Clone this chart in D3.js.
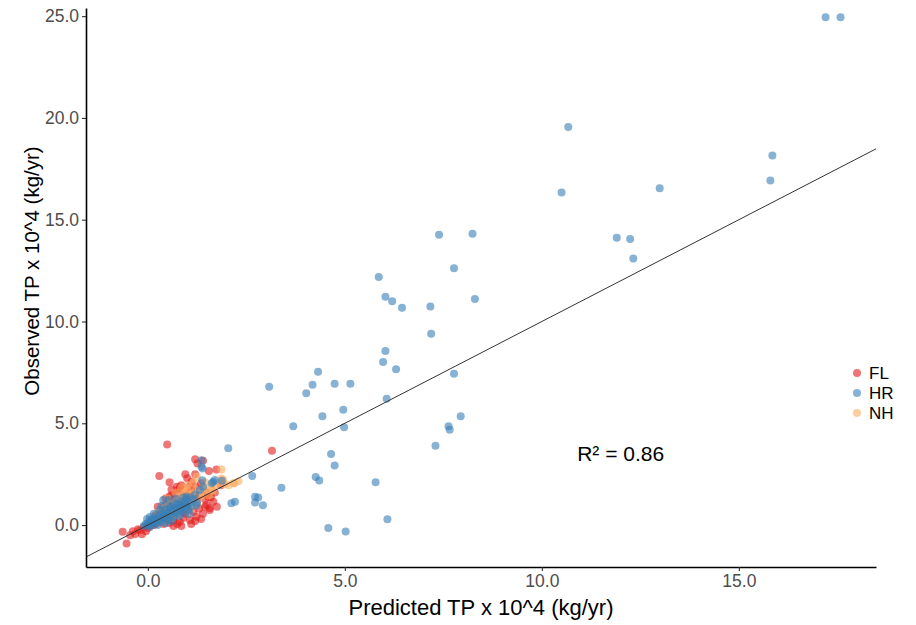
<!DOCTYPE html>
<html>
<head>
<meta charset="utf-8">
<script src="https://cdn.jsdelivr.net/npm/d3@7"></script>
<style>
  html, body { margin: 0; padding: 0; background: #ffffff; }
  svg { display: block; font-family: "Liberation Sans", Arial, sans-serif; }
</style>
</head>
<body>
<svg id="chart" width="916" height="625"></svg>
<script>
// Predicted vs observed total phosphorus loads, by region

const groups = ["FL", "HR", "NH"];
const groupColors = ["#E41A1C", "#377EB8", "#FDAE61"];

// FL sites: [predicted, observed]
const flPoints = [
  [-0.64,-0.33],[-0.54,-0.90],[-0.45,-0.50],[-0.38,-0.30],[-0.32,-0.44],[-0.25,-0.20],
  [-0.20,-0.25],[-0.15,-0.45],[-0.10,-0.10],[-0.05,-0.30],[0.00,-0.15],[0.05,-0.05],
  [0.49,3.96],[0.29,2.41],[3.15,3.65],[1.20,3.23],[1.40,3.16],[1.26,3.03],[1.74,2.73],
  [0.73,1.88],[0.81,1.85],[0.85,1.96],[1.11,2.13],[0.60,1.75],[1.00,2.30],
  [0.20,0.05],[0.30,0.15],[0.40,0.05],[0.50,0.30],[0.55,0.10],[0.65,0.20],[0.70,0.45],
  [0.75,0.05],[0.81,0.16],[0.90,0.35],[0.95,0.55],[1.07,0.25],[1.15,0.65],[1.23,0.41],
  [1.30,0.80],[1.40,0.55],[1.49,0.98],[1.57,0.82],[1.66,1.14],[1.75,0.90],[0.85,0.70],
  [0.60,0.60],[0.45,0.50],[1.00,0.90],[1.53,1.39],[1.45,0.90],[1.57,0.74],
  [0.30,0.60],[0.40,0.90],[0.50,1.10],[0.55,1.40],[0.65,1.20],[0.70,1.55],[0.80,1.30],
  [0.90,1.60],[1.00,1.45],[1.10,1.70],[1.20,1.90],[1.35,2.05],[0.20,0.50],[0.10,0.25],
  [0.15,0.00],[0.35,0.35],[0.95,1.15],[1.25,1.30],[1.50,1.60],[1.85,1.95],
  [0.25,0.90],[0.45,1.30],[0.60,1.45],[0.75,1.70],[1.05,1.90],[1.30,1.45],[1.45,1.25],
  [1.60,1.35],[1.70,1.60],[1.20,0.20],[1.35,0.30],[0.85,-0.05],[0.65,-0.05],[1.10,0.05],
  [1.55,2.65],[1.20,2.50],[0.95,2.50],[0.55,2.10]
];

// NH sites
const nhPoints = [
  [0.10,0.30],[0.20,0.40],[0.25,0.60],[0.30,0.45],[0.35,0.80],[0.40,0.55],[0.45,0.95],
  [0.50,0.70],[0.56,0.41],[0.60,1.00],[0.65,0.80],[0.70,1.20],[0.75,0.95],[0.80,1.40],
  [0.85,1.10],[0.90,1.56],[0.95,1.30],[1.00,1.70],[1.02,1.96],[1.10,1.50],[1.15,2.10],
  [1.20,1.75],[1.24,2.37],[1.30,1.55],[1.40,1.80],[1.50,1.70],[1.60,1.90],[1.70,1.95],
  [1.80,2.05],[1.87,2.29],[1.91,2.21],[2.17,2.05],[2.19,2.05],[1.87,2.73],[1.45,2.10],
  [0.98,0.85],[0.30,0.10],[0.60,0.35],[1.25,1.05],
  [0.50,1.30],[0.70,1.60],[0.85,1.85],[1.15,1.30],[1.35,1.40],[1.55,1.45],[1.65,1.70],
  [1.95,2.00],[2.05,1.95],[2.30,2.15],[0.40,0.20],[0.75,0.50],[1.10,0.80]
];

// HR sites
const hrPoints = [
  [17.20,24.95],[17.58,24.95],[10.67,19.55],[10.50,16.34],[12.99,16.55],[15.85,18.16],
  [15.80,16.93],[11.90,14.11],[12.24,14.05],[12.32,13.10],
  [7.39,14.26],[8.24,14.31],[7.77,12.61],[8.30,11.10],[5.86,12.18],[6.03,11.21],
  [6.20,11.00],[6.45,10.67],[7.17,10.74],[7.19,9.40],[6.03,8.55],[5.97,8.01],[6.30,7.65],
  [7.77,7.43],[4.32,7.53],[4.18,6.89],[4.74,6.94],[5.14,6.94],[4.02,6.47],[3.69,4.86],
  [4.43,5.35],[4.96,5.66],[4.98,4.80],[6.06,6.20],[7.94,5.35],[7.63,4.86],[7.66,4.68],
  [7.30,3.90],[4.65,3.49],[4.74,2.93],[4.26,2.36],[4.35,2.19],[5.78,2.10],[3.39,1.83],
  [6.08,0.28],[4.58,-0.15],[5.02,-0.31],
  [3.08,6.79],[2.65,2.41],[2.72,1.39],[2.80,1.36],[2.72,1.11],[2.92,0.97],[2.04,3.77],
  [2.12,1.07],[2.21,1.14],[1.36,2.86],[1.39,2.78],[1.62,2.05],[1.70,2.21],[1.88,2.18],
  [1.38,2.20],
  [-0.10,-0.05],[-0.05,0.05],[0.00,0.00],[0.02,0.15],[0.05,-0.10],[0.08,0.10],[0.10,0.25],
  [0.12,0.00],[0.15,0.15],[0.18,0.35],[0.20,0.10],[0.22,0.25],[0.25,0.45],[0.28,0.20],
  [0.30,0.35],[0.33,0.55],[0.35,0.15],[0.38,0.40],[0.40,0.60],[0.42,0.30],[0.45,0.75],
  [0.48,0.45],[0.50,0.60],[0.52,0.25],[0.55,0.85],[0.58,0.50],[0.60,0.70],[0.63,0.95],
  [0.65,0.40],[0.68,0.65],[0.70,0.85],[0.72,1.05],[0.75,0.55],[0.78,0.80],[0.80,1.00],
  [0.83,0.70],[0.85,1.15],[0.88,0.90],[0.90,0.60],[0.93,1.05],[0.95,0.80],[0.98,1.25],
  [1.00,0.95],[1.03,0.75],[1.05,1.10],[1.08,1.35],[1.10,0.90],[0.52,1.23],[0.39,1.23],
  [0.98,1.39],[1.32,1.72],[1.40,1.88],[1.66,2.13],[1.23,0.97],[1.36,3.19],[0.13,0.25],
  [0.56,0.90],[0.81,0.98],
  [0.15,0.55],[0.30,0.75],[0.45,0.10],[0.60,0.20],[0.70,1.30],[0.80,0.45],[0.90,1.35],
  [1.05,0.55],[1.15,1.25],[1.20,1.50],[0.35,0.95],[0.25,0.00],[-0.02,0.30],[0.05,0.40],
  [1.25,1.10]
];

const xTicks = [0, 5, 10, 15];
const yTicks = [0, 5, 10, 15, 20, 25];
const xDomain = [-1.57, 18.48];
const yDomain = [-2.06, 25.40];

// fitted line y = a + b x
const fitIntercept = 0;
const fitSlope = 1;
const r2Label = "R\u00B2 = 0.86";
const r2Position = [12, 3.5];

const xTitle = "Predicted TP x 10^4 (kg/yr)";
const yTitle = "Observed TP x 10^4 (kg/yr)";

const svg = d3.select("#chart");
const panel = { left: 86, right: 876, top: 8, bottom: 567 };

const x = d3.scaleLinear().domain(xDomain).range([panel.left, panel.right]);
const y = d3.scaleLinear().domain(yDomain).range([panel.bottom, panel.top]);
const color = d3.scaleOrdinal().domain(groups).range(groupColors);

const series = [
  { key: "FL", values: flPoints },
  { key: "NH", values: nhPoints },
  { key: "HR", values: hrPoints }
];

const pointRadius = 4;
const pointOpacity = 0.6;

const plot = svg.append("g");
series.forEach(s => {
  plot.append("g")
    .selectAll("circle")
    .data(s.values)
    .join("circle")
    .attr("cx", d => x(d[0]))
    .attr("cy", d => y(d[1]))
    .attr("r", pointRadius)
    .attr("fill", color(s.key))
    .attr("fill-opacity", pointOpacity);
});

// fitted line across the panel
svg.append("line")
  .attr("x1", x(xDomain[0]))
  .attr("y1", y(fitIntercept + fitSlope * xDomain[0]))
  .attr("x2", x(xDomain[1]))
  .attr("y2", y(fitIntercept + fitSlope * xDomain[1]))
  .attr("stroke", "#333333")
  .attr("stroke-width", 1);

// axes
const fmt = d3.format(".1f");
const xAxis = svg.append("g")
  .attr("transform", `translate(0,${panel.bottom})`)
  .call(d3.axisBottom(x).tickValues(xTicks).tickFormat(fmt).tickSize(4).tickSizeOuter(0));
const yAxis = svg.append("g")
  .attr("transform", `translate(${panel.left},0)`)
  .call(d3.axisLeft(y).tickValues(yTicks).tickFormat(fmt).tickSize(4).tickSizeOuter(0));

[xAxis, yAxis].forEach(g => {
  g.select(".domain").attr("stroke", "#000").attr("stroke-width", 1.6);
  g.selectAll(".tick line").attr("stroke", "#333").attr("stroke-width", 1.1);
  g.selectAll(".tick text")
    .attr("fill", "#4D4D4D")
    .style("font-size", "17.5px")
    .style("font-family", "'Liberation Sans', Arial, sans-serif");
});
xAxis.selectAll(".tick text").attr("y", 8);
yAxis.selectAll(".tick text").attr("x", -7);

// axis titles
svg.append("text")
  .attr("x", (panel.left + panel.right) / 2)
  .attr("y", 615)
  .attr("text-anchor", "middle")
  .style("font-size", "22px")
  .attr("fill", "#000")
  .text(xTitle);

svg.append("text")
  .attr("transform", `translate(39,${271}) rotate(-90)`)
  .attr("text-anchor", "middle")
  .style("font-size", "20.5px")
  .attr("fill", "#000")
  .text(yTitle);

// R² annotation
svg.append("text")
  .attr("x", x(r2Position[0]))
  .attr("y", y(r2Position[1]))
  .attr("text-anchor", "middle")
  .attr("dominant-baseline", "central")
  .style("font-size", "21px")
  .attr("fill", "#000")
  .text(r2Label);

// legend
const legend = svg.append("g").attr("transform", "translate(857,373)");
groups.forEach((g, i) => {
  const row = legend.append("g").attr("transform", `translate(0,${i * 20})`);
  row.append("circle")
    .attr("r", pointRadius)
    .attr("fill", color(g))
    .attr("fill-opacity", pointOpacity);
  row.append("text")
    .attr("x", 12)
    .attr("dominant-baseline", "central")
    .style("font-size", "17px")
    .attr("fill", "#000")
    .text(g);
});
</script>
</body>
</html>
